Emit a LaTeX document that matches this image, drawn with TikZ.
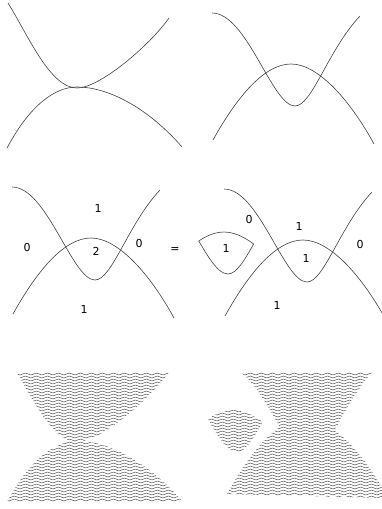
\documentclass[tikz,border=0pt]{standalone}
\usepackage{fontspec}
\setmainfont{DejaVu Sans}
\usetikzlibrary{decorations.pathmorphing}

% curve paths, in pixel units with y pointing down
\newcommand{\tangA}{(8,3) .. controls (28,35) and (50,88) .. (77,88) .. controls (100,88) and (150,45) .. (169,18)}
\newcommand{\tangB}{(7,148) .. controls (30,105) and (55,87) .. (77,87) .. controls (110,87) and (150,110) .. (182,147)}
\newcommand{\dipA}{(212,13) .. controls (247,13) and (272,106) .. (295,106) .. controls (312,106) and (328,50) .. (360,16)}
\newcommand{\archB}{(213,140) .. controls (238,95) and (265,64) .. (291,64) .. controls (318,64) and (350,100) .. (374,144)}
% same arch, run from right to left (for the union clip)
\newcommand{\archBrev}{(374,144) .. controls (350,100) and (318,64) .. (291,64) .. controls (265,64) and (238,95) .. (213,140)}
% wavy rows used as fill
\newcommand{\hatchrows}[2]{\foreach \yy in {20,23,...,149} \draw[hatch] (#1,\yy) -- (#2,\yy);}

\begin{document}
\begin{tikzpicture}[x=1pt, y=-1pt,
  curve/.style={black!75, line width=0.6pt},
  hatch/.style={black!75, line width=0.45pt, decorate,
    decoration={snake, segment length=11pt, amplitude=1pt}},
  lbl/.style={font=\fontsize{11}{13}\selectfont, inner sep=1pt}]
  \useasboundingbox (0,0) rectangle (382,509);

  % top left: touching curves
  \draw[curve] \tangA;
  \draw[curve] \tangB;

  % top right: crossing curves
  \draw[curve] \dipA;
  \draw[curve] \archB;

  % middle left: counted regions
  \begin{scope}[shift={(-200,174)}]
    \draw[curve] \dipA;
    \draw[curve] \archB;
  \end{scope}
  \node[lbl] (lt) at (98,208) {1};
  \node[lbl] (ll) at (27,247) {0};
  \node[lbl] (lm) at (96,251) {2};
  \node[lbl] (lr) at (139,243) {0};
  \node[lbl] (lb) at (84,309) {1};
  \node[lbl] (eq) at (175,250) {=};

  % middle right: same curves plus the cut-out piece
  \begin{scope}[shift={(12,176)}]
    \draw[curve] \dipA;
    \draw[curve] \archB;
  \end{scope}
  \begin{scope}[shift={(-67,168)}]
    \begin{scope}
      \clip \dipA -- (360,0) -- (212,0) -- cycle;
      \draw[curve] \archB;
    \end{scope}
    \begin{scope}
      \clip \archB -- cycle;
      \draw[curve] \dipA;
    \end{scope}
  \end{scope}
  \node[lbl] (rl) at (249,219) {0};
  \node[lbl] (rt) at (299,226) {1};
  \node[lbl] (rr) at (360,244) {0};
  \node[lbl] (rm) at (306,258) {1};
  \node[lbl] (rb) at (277,305) {1};
  \node[lbl] (rp) at (226,248) {1};

  % bottom left: hatched regions of the touching curves
  \begin{scope}[shift={(0,354)}]
    \begin{scope}
      \clip \tangA -- (169,0) -- (8,0) -- cycle;
      \hatchrows{0}{190}
    \end{scope}
    \begin{scope}
      \clip \tangB -- cycle;
      \hatchrows{0}{190}
    \end{scope}
  \end{scope}

  % bottom right: union of the two regions, hatched once
  \begin{scope}[shift={(14,354)}]
    \clip \dipA -- (360,0) -- (212,0) -- cycle \archBrev -- cycle;
    \hatchrows{200}{400}
  \end{scope}
  \begin{scope}[shift={(-58,346)}]
    \clip \dipA -- (360,0) -- (212,0) -- cycle;
    \clip \archB -- cycle;
    \hatchrows{200}{400}
  \end{scope}
\end{tikzpicture}
\end{document}
